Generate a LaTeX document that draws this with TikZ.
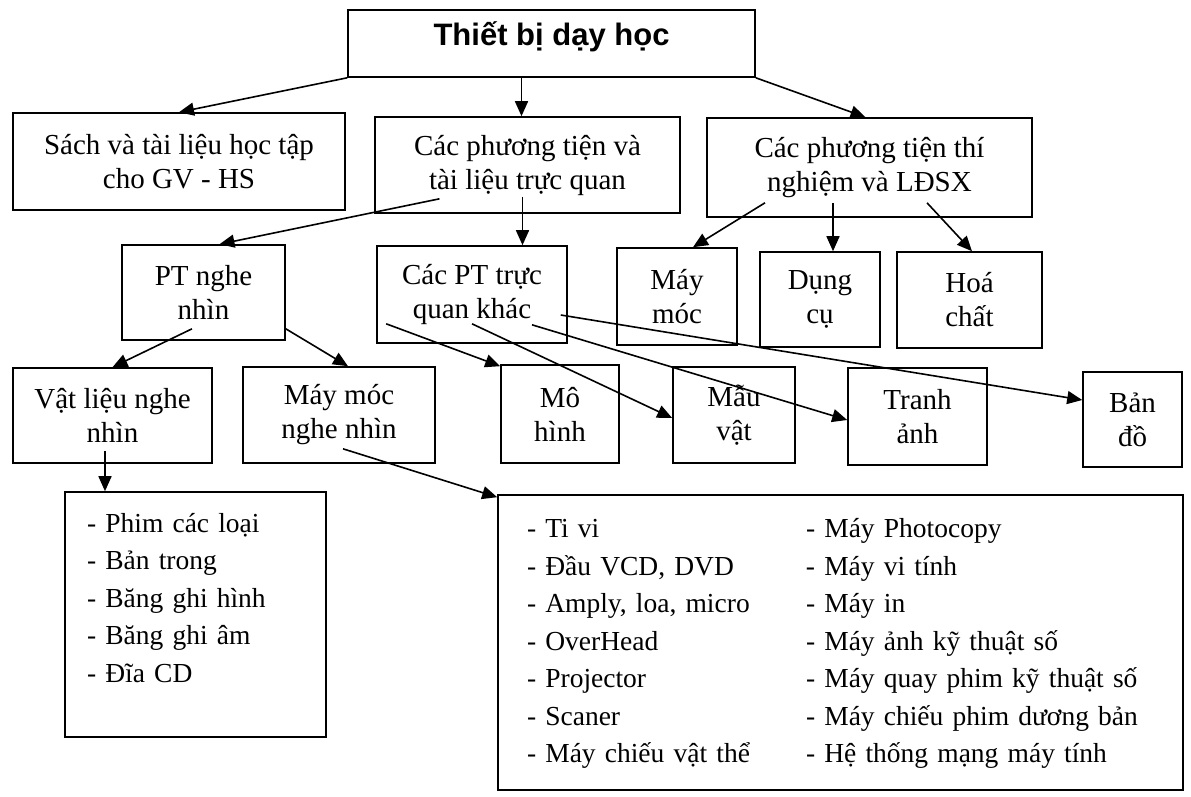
\documentclass[tikz,border=0pt]{standalone}
\usepackage{fontspec}
\setmainfont{Liberation Serif}
\newfontfamily\titlefont{Liberation Sans}
\usetikzlibrary{arrows.meta}
\tikzset{
	box/.style={draw, line width=1.6pt, align=center, inner sep=0pt, font=\fontsize{29}{34}\selectfont},
	itemsbox/.style={draw, line width=1.6pt, align=left, inner ysep=0pt, font=\fontsize{27.5}{37.5}\selectfont},
	link/.style={line width=1.6pt, -{Triangle[length=15pt,width=13pt]}},
}
\begin{document}
\begin{tikzpicture}[x=1pt,y=-1pt]
			\useasboundingbox (0,0) rectangle (1191,796);
			\node[box, minimum width=407pt, minimum height=67pt, text height=21pt, text depth=17pt,
				font=\titlefont\bfseries\fontsize{31}{36}\selectfont] (top) at (551.5,43.5) {Thiết bị dạy học};
			% second row
			\node[box, minimum width=332pt, minimum height=97pt] (sach) at (179,161.5) {Sách và tài liệu học tập\\cho GV - HS};
			\node[box, minimum width=305pt, minimum height=96pt] (trucquan) at (527.5,165) {Các phương tiện và\\tài liệu trực quan};
			\node[box, minimum width=325pt, minimum height=99pt] (thinghiem) at (869.5,167.5) {Các phương tiện thí\\nghiệm và LĐSX};
			% third row
			\node[box, minimum width=163pt, minimum height=95pt] (ptnghe) at (203.5,292.5) {PT nghe\\nhìn};
			\node[box, minimum width=190pt, minimum height=97pt] (ptkhac) at (472,294.5) {Các PT trực\\quan khác};
			\node[box, minimum width=120pt, minimum height=97pt] (maymoc) at (677,296.5) {Máy\\móc};
			\node[box, minimum width=120pt, minimum height=95pt] (dungcu) at (820,299.5) {Dụng\\cụ};
			\node[box, minimum width=145pt, minimum height=96pt] (hoachat) at (969.5,300) {Hoá\\chất};
			% fourth row
			\node[box, minimum width=199pt, minimum height=95pt] (vatlieu) at (112.5,415.5) {Vật liệu nghe\\nhìn};
			\node[box, minimum width=192pt, minimum height=96pt] (maymocnn) at (339,415) {Máy móc\\nghe nhìn};
			\node[box, minimum width=118pt, minimum height=98pt] (mohinh) at (560,414) {Mô\\hình};
			\node[box, minimum width=122pt, minimum height=96pt] (mauvat) at (734,415) {Mẫu\\vật};
			\node[box, minimum width=139pt, minimum height=97pt] (tranh) at (917.5,416.5) {Tranh\\ảnh};
			\node[box, minimum width=99pt, minimum height=95pt] (bando) at (1132.5,419.5) {Bản\\đồ};
			% lists
			\node[itemsbox, inner xsep=22pt, text width=217pt, minimum height=245pt] (listL) at (195.5,614.5)
				{\begin{tabular}{@{}l@{}}
					- Phim các loại\\
					- Bản trong\\
					- Băng ghi hình\\
					- Băng ghi âm\\
					- Đĩa CD\rule[-41.25pt]{0pt}{41.25pt}
				\end{tabular}};
			\node[itemsbox, inner xsep=29pt, text width=627pt, minimum height=295pt] (listR) at (840.5,642.5)
				{\begin{tabular}{@{}p{279pt}@{}l@{}}
					- Ti vi & - Máy Photocopy\\
					- Đầu VCD, DVD & - Máy vi tính\\
					- Amply, loa, micro & - Máy in\\
					- OverHead & - Máy ảnh kỹ thuật số\\
					- Projector & - Máy quay phim kỹ thuật số\\
					- Scaner & - Máy chiếu phim dương bản\\
					- Máy chiếu vật thể & - Hệ thống mạng máy tính
				\end{tabular}};
			% connectors
			\draw[link] (top.south west) -- (sach.north);
			\draw[link] ([xshift=-30pt]top.south) -- ([xshift=-6pt]trucquan.north);
			\draw[link] (top.south east) -- ([xshift=-4pt]thinghiem.north);
			\draw[link] ([xshift=-88pt,yshift=15pt]trucquan.south) -- ([xshift=16pt]ptnghe.north);
			\draw[link] ([xshift=-5pt,yshift=17pt]trucquan.south) -- ([xshift=50.5pt]ptkhac.north);
			\foreach \sx/\dst/\dx in {-104.5/maymoc/16, -36.5/dungcu/13, 57.5/hoachat/2.5}
			{
				\draw[link] ([xshift=\sx pt,yshift=15pt]thinghiem.south) -- ([xshift=\dx pt]\dst.north);
			}
			\draw[link] ([xshift=-11.5pt,yshift=12pt]ptnghe.south) -- (vatlieu.north);
			\draw[link] ([yshift=12pt]ptnghe.south east) -- ([xshift=9pt]maymocnn.north);
			\draw[link] ([xshift=10pt,yshift=20pt]ptkhac.south west) -- ([yshift=-2pt]mohinh.north west);
			\draw[link] ([yshift=20pt]ptkhac.south) -- ([yshift=-3pt]mauvat.west);
			\draw[link] ([xshift=60pt,yshift=19pt]ptkhac.south) -- ([yshift=-3.5pt]tranh.west);
			\draw[link] ([xshift=-7pt,yshift=-20.5pt]ptkhac.east) -- ([yshift=19.5pt]bando.west);
			\draw[link] ([xshift=-7.5pt,yshift=13pt]vatlieu.south) -- ([xshift=-90.5pt]listL.north);
			\draw[link] ([xshift=4pt,yshift=15pt]maymocnn.south) -- ([yshift=-3pt]listR.north west);
		\end{tikzpicture}
\end{document}
